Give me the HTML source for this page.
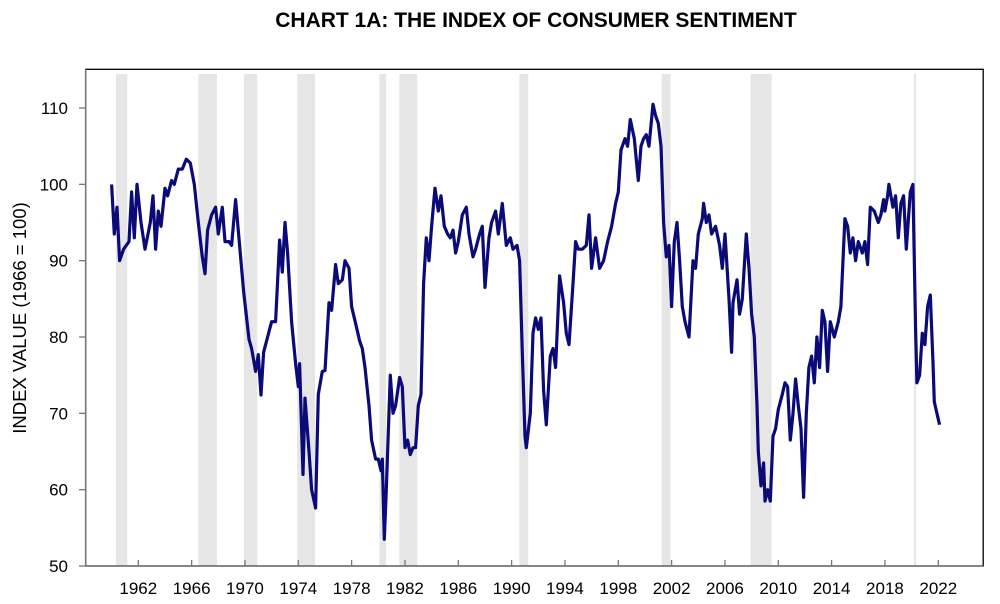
<!DOCTYPE html>
<html><head><meta charset="utf-8"><style>
body{margin:0;background:#fff;}
svg{display:block;font-family:"Liberation Sans",Arial,sans-serif;}
</style></head><body>
<svg id="chart" width="1000" height="604" viewBox="0 0 1000 604">
<text x="536" y="27" text-anchor="middle" font-size="21" font-weight="bold" fill="#000">CHART 1A: THE INDEX OF CONSUMER SENTIMENT</text>
<g id="rec"></g>
<rect x="85.7" y="69.3" width="897.5" height="496.7" fill="none" stroke="#000" stroke-width="1.3"/>
<g id="axes"></g>
<path id="line" fill="none" stroke="#0a0a78" stroke-width="3.2" stroke-linejoin="round"/>
<text transform="translate(26,318) rotate(-90)" text-anchor="middle" font-size="18.5" fill="#000">INDEX VALUE (1966 = 100)</text>
</svg>
<script>
const years=[1960.0,1960.2,1960.4,1960.6,1960.9,1961.3,1961.5,1961.7,1961.9,1962.2,1962.5,1962.9,1963.1,1963.3,1963.5,1963.7,1964.0,1964.2,1964.5,1964.7,1965.0,1965.3,1965.6,1965.9,1966.2,1966.5,1966.8,1967.0,1967.2,1967.5,1967.8,1968.0,1968.3,1968.5,1968.8,1969.0,1969.3,1969.6,1969.9,1970.3,1970.5,1970.8,1971.0,1971.2,1971.4,1971.7,1972.0,1972.3,1972.6,1972.8,1973.0,1973.2,1973.5,1973.8,1974.0,1974.1,1974.35,1974.5,1974.8,1975.0,1975.3,1975.5,1975.8,1976.0,1976.3,1976.5,1976.8,1977.0,1977.3,1977.5,1977.8,1978.0,1978.4,1978.6,1978.8,1979.0,1979.3,1979.5,1979.8,1980.0,1980.2,1980.3,1980.45,1980.6,1980.9,1981.1,1981.3,1981.6,1981.8,1982.0,1982.2,1982.4,1982.6,1982.8,1983.0,1983.2,1983.4,1983.6,1983.8,1984.0,1984.25,1984.5,1984.7,1984.95,1985.2,1985.4,1985.6,1985.8,1986.0,1986.3,1986.6,1986.8,1987.1,1987.3,1987.6,1987.8,1988.0,1988.3,1988.5,1988.8,1989.0,1989.3,1989.6,1989.9,1990.1,1990.4,1990.6,1990.8,1991.0,1991.1,1991.4,1991.6,1991.8,1992.0,1992.2,1992.4,1992.6,1992.9,1993.1,1993.3,1993.6,1993.9,1994.1,1994.3,1994.6,1994.8,1995.0,1995.3,1995.6,1995.8,1996.0,1996.3,1996.6,1996.9,1997.2,1997.5,1997.8,1998.0,1998.2,1998.5,1998.7,1998.9,1999.2,1999.5,1999.7,1999.9,2000.1,2000.3,2000.6,2000.8,2001.0,2001.2,2001.4,2001.6,2001.8,2002.0,2002.2,2002.4,2002.6,2002.8,2003.0,2003.3,2003.6,2003.8,2004.0,2004.3,2004.4,2004.6,2004.8,2005.0,2005.3,2005.6,2005.8,2006.0,2006.3,2006.5,2006.6,2006.9,2007.1,2007.3,2007.6,2007.8,2008.0,2008.2,2008.4,2008.5,2008.7,2008.9,2009.0,2009.2,2009.4,2009.6,2009.8,2010.0,2010.3,2010.5,2010.7,2010.9,2011.1,2011.3,2011.5,2011.7,2011.9,2012.1,2012.3,2012.5,2012.7,2012.9,2013.1,2013.3,2013.5,2013.7,2013.9,2014.2,2014.5,2014.7,2015.0,2015.2,2015.4,2015.6,2015.8,2016.0,2016.3,2016.5,2016.7,2016.9,2017.2,2017.5,2017.7,2017.9,2018.0,2018.2,2018.3,2018.6,2018.8,2019.0,2019.2,2019.4,2019.6,2019.9,2020.1,2020.3,2020.4,2020.6,2020.8,2021.0,2021.2,2021.4,2021.6,2021.7,2021.9,2022.1];
const values=[100,93.5,97,90,91.5,92.5,99,93,100,95,91.5,95,98.5,91.5,96.5,94.5,99.5,98.5,100.5,100,102,102,103.3,102.8,100,95,90.5,88.3,94,96,97,93.5,97,92.5,92.5,92,98,92,86,79.7,78.5,75.5,77.7,72.4,78,80,82,82,92.7,88.5,95,91,82,76.5,73.5,76.5,62,72,65,60,57.6,72.5,75.5,75.6,84.5,83.5,89.5,87,87.5,90,89,84,81,79.5,78.5,76,71,66.5,64,64,62.5,64,53.5,60,75,70,71,74.7,73.5,65.5,66.5,64.6,65.5,65.5,71,72.5,87,93,90,94.5,99.5,96.5,98.5,94.5,93.5,93,94,91,92.5,96,97,93.5,90.5,91.5,93.5,94.5,86.5,93,95,96.5,93.5,97.5,92,93,91.5,92,90,78,67,65.5,70,80.5,82.5,81,82.5,73,68.5,77.5,78.5,76,88,84.5,80.5,79,87,92.5,91.5,91.5,92,96,89,93,89,90,92.5,94.5,97.5,99,104.5,106,105,108.5,106,100.5,105,106,106.5,105,110.5,109,108,105,95,90.5,92,84,92.5,95,90,84,82,80,90,89,93.5,95.5,97.5,95,96,93.5,94.5,92,89,93.5,85,78,84.5,87.5,83,85,93.5,89,83,80,71,65,60.5,63.5,58.5,60,58.5,67,68,70.5,72.5,74,73.5,66.5,70,74.5,71,68,59,70,76,77.5,74,80,76,83.5,82,75.5,82,80,82,84,95.5,94.5,91,93,90,92.5,91,92.5,89.5,97,96.5,95,96,98,96.5,98.5,100,97,98.5,93,97.5,98.5,91.5,99,100,81,74,75,80.5,79,84,85.5,77,71.5,70,68.5];
const recStart=[1960.33,1966.5,1969.92,1973.92,1980.08,1981.58,1990.58,2001.25,2007.92,2020.17];
const recEnd=[1961.17,1967.9,1970.92,1975.25,1980.58,1982.92,1991.25,2001.92,2009.5,2020.33];
const yTicks=[50,60,70,80,90,100,110];
const xTicks=[1962,1966,1970,1974,1978,1982,1986,1990,1994,1998,2002,2006,2010,2014,2018,2022];
const NS="http://www.w3.org/2000/svg";
const X=t=>138.3+(t-1962)*13.333;
const Y=v=>566-(v-50)*7.633;
const rec=document.getElementById('rec'),axes=document.getElementById('axes');
for(let i=0;i<recStart.length;i++){
 const r=document.createElementNS(NS,'rect');
 r.setAttribute('x',X(recStart[i]));r.setAttribute('width',Math.max(2,X(recEnd[i])-X(recStart[i])));
 r.setAttribute('y',74);r.setAttribute('height',492);r.setAttribute('fill','#e6e6e6');
 
 
 rec.appendChild(r);
}
yTicks.forEach(v=>{
 const l=document.createElementNS(NS,'line');
 l.setAttribute('x1',79);l.setAttribute('x2',85.7);l.setAttribute('y1',Y(v));l.setAttribute('y2',Y(v));l.setAttribute('stroke','#777');l.setAttribute('stroke-width','1.3');
 
 
 axes.appendChild(l);
 const t=document.createElementNS(NS,'text');
 t.setAttribute('x',68);t.setAttribute('y',Y(v)+6);t.setAttribute('text-anchor','end');t.setAttribute('font-size','17');
 t.textContent=v;
 
 
 axes.appendChild(t);
});
xTicks.forEach(v=>{
 const l=document.createElementNS(NS,'line');
 l.setAttribute('x1',X(v));l.setAttribute('x2',X(v));l.setAttribute('y1',560);l.setAttribute('y2',566);l.setAttribute('stroke','#777');l.setAttribute('stroke-width','1.3');
 
 
 axes.appendChild(l);
 const t=document.createElementNS(NS,'text');
 t.setAttribute('x',X(v));t.setAttribute('y',594);t.setAttribute('text-anchor','middle');t.setAttribute('font-size','17');
 t.textContent=v;
 
 
 axes.appendChild(t);
});
const ax=document.createElementNS(NS,'path');
ax.setAttribute('d','M85.7 69.3V566H983.2');ax.setAttribute('stroke','#777');ax.setAttribute('stroke-width','1.6');ax.setAttribute('fill','none');


axes.appendChild(ax);
document.getElementById('line').setAttribute('d',years.map((t,i)=>(i?'L':'M')+X(t).toFixed(1)+' '+Y(values[i]).toFixed(1)).join(''));
</script>
</body></html>
